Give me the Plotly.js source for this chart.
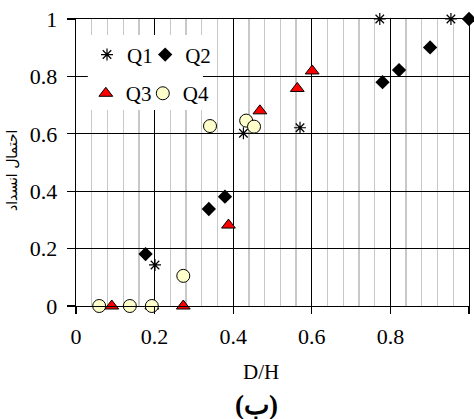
<!DOCTYPE html>
<html>
<head>
<meta charset="utf-8">
<script src="https://cdn.plot.ly/plotly-3.0.1.min.js"></script>
<style>html,body{margin:0;padding:0;background:#fff;}#chart{width:474px;height:419px;}</style>
</head>
<body>
<div id="chart"></div>
<script>
// Data
const q1X = [0.201, 0.426, 0.570, 0.773, 0.954];
const q1Y = [0.143, 0.602, 0.621, 1.0, 1.0];
const q2X = [0.177, 0.338, 0.379, 0.780, 0.822, 0.901, 1.0];
const q2Y = [0.181, 0.338, 0.381, 0.780, 0.822, 0.901, 1.0];
const q3X = [0.091, 0.193, 0.273, 0.388, 0.468, 0.563, 0.601];
const q3Y = [0.0, 0.0, 0.0, 0.282, 0.680, 0.758, 0.819];
const q4X = [0.059, 0.137, 0.193, 0.273, 0.341, 0.433, 0.453];
const q4Y = [0.0, 0.0, 0.0, 0.105, 0.627, 0.646, 0.625];
const seriesNames = ['Q1', 'Q2', 'Q3', 'Q4'];
const xTickVals = [0, 0.2, 0.4, 0.6, 0.8, 1];
const xTickText = ['0', '0.2', '0.4', '0.6', '0.8', '1'];
const yTickVals = [0, 0.2, 0.4, 0.6, 0.8, 1];
const yTickText = ['0', '0.2', '0.4', '0.6', '0.8', '1'];

const serif = '"Liberation Serif", "Times New Roman", serif';

const traces = [
  {x: q1X, y: q1Y, name: seriesNames[0], type: 'scatter', mode: 'markers', legend: 'legend',
   marker: {symbol: 'asterisk-open', size: 10, color: '#000', line: {color: '#000', width: 1.2}}, cliponaxis: false},
  {x: q2X, y: q2Y, name: seriesNames[1], type: 'scatter', mode: 'markers', legend: 'legend2',
   marker: {symbol: 'diamond', size: 11, color: '#000', line: {color: '#000', width: 0}}, cliponaxis: false},
  {x: q3X, y: q3Y, name: seriesNames[2], type: 'scatter', mode: 'markers', legend: 'legend3',
   marker: {symbol: 'triangle-up', size: 12, color: '#ff0000', line: {color: '#000', width: 1}}, cliponaxis: false},
  {x: q4X, y: q4Y, name: seriesNames[3], type: 'scatter', mode: 'markers', legend: 'legend4',
   marker: {symbol: 'circle', size: 13, color: '#ffffcc', line: {color: '#000', width: 1}}, cliponaxis: false}
];

const legendFont = {family: serif, size: 21, color: '#000'};
function leg(x, y) {
  return {orientation: 'h', x: x, xanchor: 'left', y: y, yanchor: 'middle',
    bgcolor: 'rgba(0,0,0,0)', borderwidth: 0, font: legendFont, itemwidth: 30};
}

const layout = {
  width: 474, height: 419,
  margin: {l: 76, r: 5, t: 19, b: 113},
  paper_bgcolor: '#fff', plot_bgcolor: '#fff',
  font: {family: serif, size: 22, color: '#000'},
  showlegend: true,
  xaxis: {
    range: [0, 1], tickmode: 'array', tickvals: xTickVals, ticktext: xTickText,
    showgrid: true, gridcolor: '#000', gridwidth: 1.3,
    minor: {dtick: 0.04, showgrid: true, gridcolor: '#c8c8c8', gridwidth: 1.3, ticks: ''},
    showline: true, linecolor: '#000', linewidth: 1.3, mirror: true,
    ticks: 'outside', ticklen: 7, tickcolor: '#000', tickwidth: 1.3,
    zeroline: false, ticklabelstandoff: 3,
    tickfont: {family: serif, size: 22, color: '#000'}
  },
  yaxis: {
    range: [0, 1], tickmode: 'array', tickvals: yTickVals, ticktext: yTickText,
    showgrid: true, gridcolor: '#000', gridwidth: 1.3,
    showline: true, linecolor: '#000', linewidth: 1.3, mirror: true,
    ticks: 'outside', ticklen: 8, tickcolor: '#000', tickwidth: 1.3,
    zeroline: false, ticklabelstandoff: 5,
    tickfont: {family: serif, size: 22, color: '#000'}
  },
  legend: leg(0.028, 0.875),
  legend2: leg(0.176, 0.875),
  legend3: leg(0.025, 0.740),
  legend4: leg(0.170, 0.740),
  shapes: [
    {type: 'rect', xref: 'paper', yref: 'paper', x0: 0.03, x1: 0.323, y0: 0.683, y1: 0.944,
     fillcolor: '#fff', line: {width: 0}, layer: 'above'}
  ],
  annotations: [
    {text: 'D/H', xref: 'paper', yref: 'paper', x: (261 - 76) / 393, y: (306 - 372) / 287,
     xanchor: 'center', yanchor: 'middle', showarrow: false, font: {family: serif, size: 21, color: '#000'}},
    {text: '<b>(ب)</b>', xref: 'paper', yref: 'paper', x: (256 - 76) / 393, y: (306 - 405) / 287,
     xanchor: 'center', yanchor: 'middle', showarrow: false, font: {family: serif, size: 27, color: '#000'}},
    {text: 'احتمال انسداد', xref: 'paper', yref: 'paper', x: (12 - 76) / 393, y: (306 - 170) / 287,
     xanchor: 'center', yanchor: 'middle', textangle: -90, showarrow: false,
     font: {family: '"DejaVu Sans", sans-serif', size: 14, color: '#000'}}
  ]
};

Plotly.newPlot('chart', traces, layout, {displayModeBar: false, staticPlot: true});
</script>
</body>
</html>
